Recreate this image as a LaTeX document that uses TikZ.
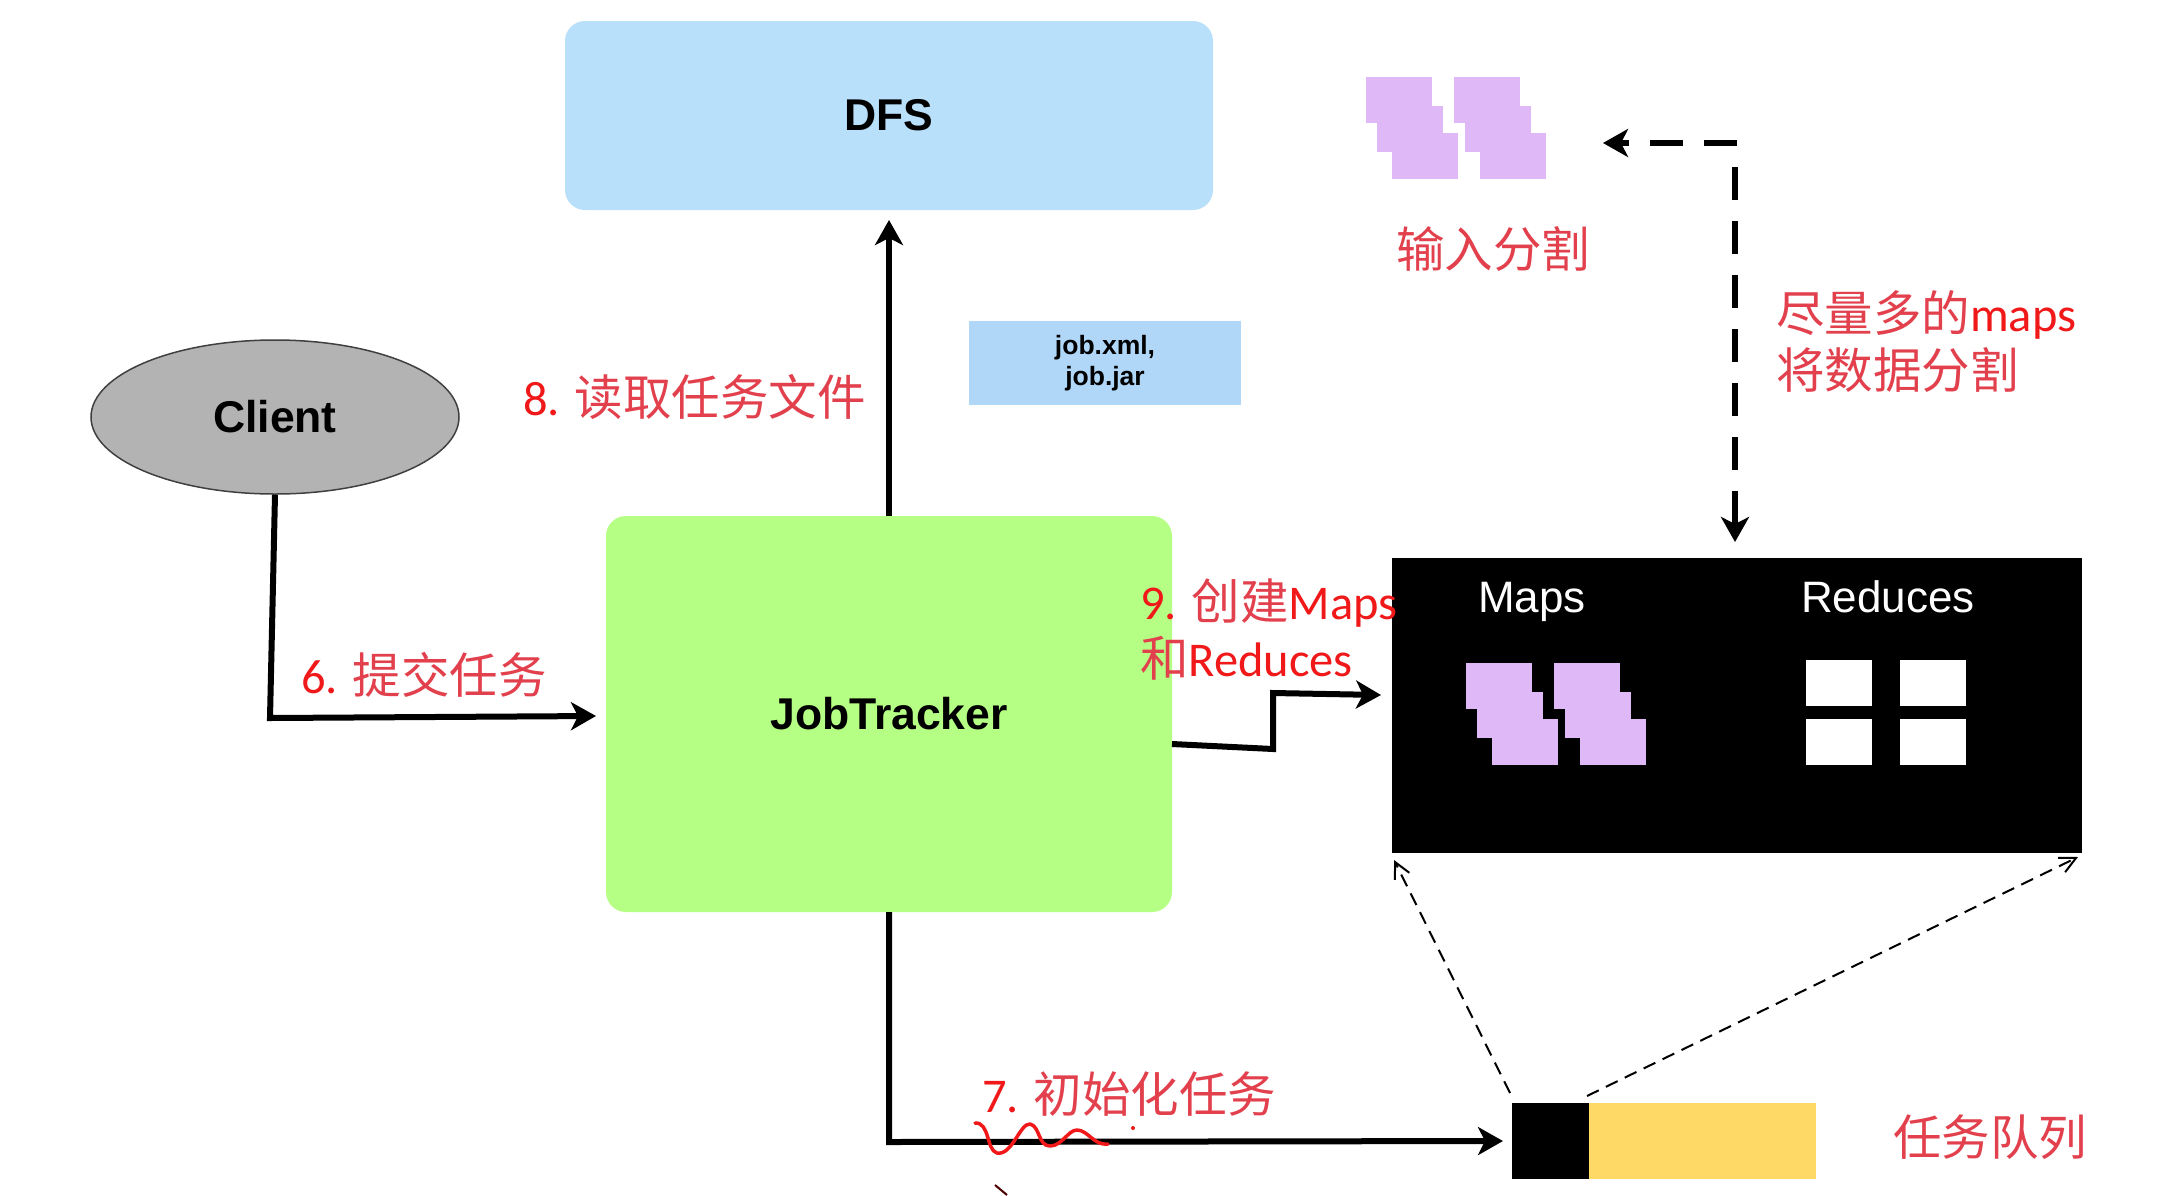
\documentclass[tikz,border=0pt]{standalone}
\usepackage{fontspec}
\usetikzlibrary{arrows.meta,shapes.geometric}
\setmainfont{Liberation Sans}
\newfontfamily\cjk{Noto Sans CJK SC}
\newfontfamily\cali{Carlito}
\definecolor{dfsblue}{HTML}{B9E0FB}
\definecolor{jobblue}{HTML}{B0D6F8}
\definecolor{jtgreen}{HTML}{B6FF85}
\definecolor{cligray}{HTML}{B3B3B3}
\definecolor{splitpurple}{HTML}{DFB9F7}
\definecolor{qyellow}{HTML}{FFD966}
\definecolor{zhred}{HTML}{E2404C}
\definecolor{latred}{HTML}{F01818}
\newcommand\zh[1]{{\cjk\color{zhred}#1}}
\newcommand\la[1]{{\cali\color{latred}#1}}
\tikzset{
  x=1pt,y=-1pt,
  box/.style={inner sep=0pt,outer sep=0pt,anchor=north west},
  titlebf/.style={font=\fontsize{44.5}{50}\selectfont\bfseries,text=black},
  maptxt/.style={font=\fontsize{44}{50}\selectfont,text=white,inner sep=0pt,anchor=base},
  redtxt/.style={font=\fontsize{48.5}{57}\selectfont,anchor=west,inner sep=0pt,align=left},
  arr/.style={draw=black,line width=6pt,-{Stealth[length=25pt,width=28pt,inset=7pt]}},
  dasharr/.style={arr,dash pattern=on 33pt off 21pt},
  thinarr/.style={draw=black,line width=2pt,dash pattern=on 13pt off 8pt,-{Straight Barb[length=16pt,width=16pt,line width=2pt]}},
}
\newcommand\slipstack[2]{%
  \fill[splitpurple] (#1,#2) rectangle ++(66,46);
  \fill[splitpurple] (#1+11,#2+29) rectangle ++(66,46);
  \fill[splitpurple] (#1+26,#2+56) rectangle ++(66,46);
}
\begin{document}
\begin{tikzpicture}
\useasboundingbox (0,0) rectangle (2176,1195);
\fill[white] (0,0) rectangle (2176,1195);

% main nodes
\node[box,fill=dfsblue,rounded corners=20pt,minimum width=648pt,minimum height=189pt,titlebf] (dfs) at (565,21) {DFS};
\node[box,fill=jobblue,minimum width=272pt,minimum height=84pt,align=center,font=\fontsize{26.5}{31}\selectfont\bfseries] (job) at (969,321) {job.xml,\\job.jar};
\node[draw=black!75,line width=1.5pt,fill=cligray,ellipse,inner sep=0pt,minimum width=368pt,minimum height=154pt,titlebf] (client) at (275,417) {Client};
\node[box,fill=jtgreen,rounded corners=20pt,minimum width=566pt,minimum height=396pt,titlebf] (jt) at (606,516) {JobTracker};

% black block
\node[box,fill=black,minimum width=690pt,minimum height=295pt] (mr) at (1392,558) {};
\node[maptxt] (maps) at (1532,612) {Maps};
\node[maptxt] (reduces) at (1888,612) {Reduces};
\slipstack{1466}{663}
\slipstack{1554}{663}
\fill[white] (1806,660) rectangle (1872,706);
\fill[white] (1900,660) rectangle (1966,706);
\fill[white] (1806,719) rectangle (1872,765);
\fill[white] (1900,719) rectangle (1966,765);

% input splits
\slipstack{1366}{77}
\slipstack{1454}{77}

% queue
\node[box,fill=black,minimum width=77pt,minimum height=76pt] (qhead) at (1512,1103) {};
\node[box,fill=qyellow,minimum width=227pt,minimum height=76pt] (qtail) at (1589,1103) {};

% free coordinates
\coordinate (c6) at (270,718);
\coordinate (c6b) at (606,716);
\coordinate (c7) at (889,1142);
\coordinate (c7b) at (1512,1141);
\coordinate (c9s) at (1172,744);
\coordinate (c9a) at (1273,749);
\coordinate (c9b) at (1273,693);
\coordinate (c9c) at (1392,695);
\coordinate (dstart) at (1735,167);
\coordinate (dhstart) at (1737,143);
\coordinate (dtip) at (1575,143);
\coordinate (dend) at (1735,558);
\coordinate (t1s) at (1510,1093);
\coordinate (t1e) at (1394,860);
\coordinate (t2s) at (1587,1096);
\coordinate (t2e) at (2078,857);

% connectors
\draw[arr] (client.south) -- (c6) -- ([xshift=-10pt]c6b);
\draw[arr] (jt.north) -- ([yshift=-10pt]dfs.south);
\draw[arr] (jt.south) -- (c7) -- ([xshift=-9pt]c7b);
\draw[arr] (c9s) -- (c9a) -- (c9b) -- ([xshift=-11pt]c9c);
\draw[dasharr] (dhstart) -- ([xshift=28pt]dtip);
\draw[dasharr] (dstart) -- ([yshift=16pt]dend);
\draw[thinarr] (t1s) -- (t1e);
\draw[thinarr] (t2s) -- (t2e);

% red labels
\node[redtxt] (l8) at (523,397) {\la{8. }\zh{读取任务文件}};
\node[redtxt] (l6) at (301,675) {\la{6. }\zh{提交任务}};
\node[redtxt] (l9) at (1140,630) {\la{9. }\zh{创建}\la{Maps}\\\zh{和}\la{Reduces}};
\node[redtxt] (l7) at (982,1094) {\la{7. }\zh{初始化任务}};
\node[redtxt] (lin) at (1396,249) {\zh{输入分割}};
\node[redtxt] (lmany) at (1776,342) {\zh{尽量多的}\la{maps}\\\zh{将数据分割}};
\node[redtxt] (lq) at (1893,1137) {\zh{任务队列}};

% handwritten red marks
\draw[latred,line width=3.5pt,line cap=round,line join=round]
  (975,1123) .. controls (990,1122) and (986,1150) .. (997,1153)
  .. controls (1012,1156) and (1020,1123) .. (1030,1124)
  .. controls (1040,1126) and (1038,1146) .. (1050,1146)
  .. controls (1062,1146) and (1068,1130) .. (1077,1130)
  .. controls (1088,1130) and (1094,1146) .. (1108,1144);
\fill[latred] (1133,1128) circle (2pt);
\draw[black!70!red,line width=2pt] (995,1185) -- (1007,1195);
\end{tikzpicture}
\end{document}
